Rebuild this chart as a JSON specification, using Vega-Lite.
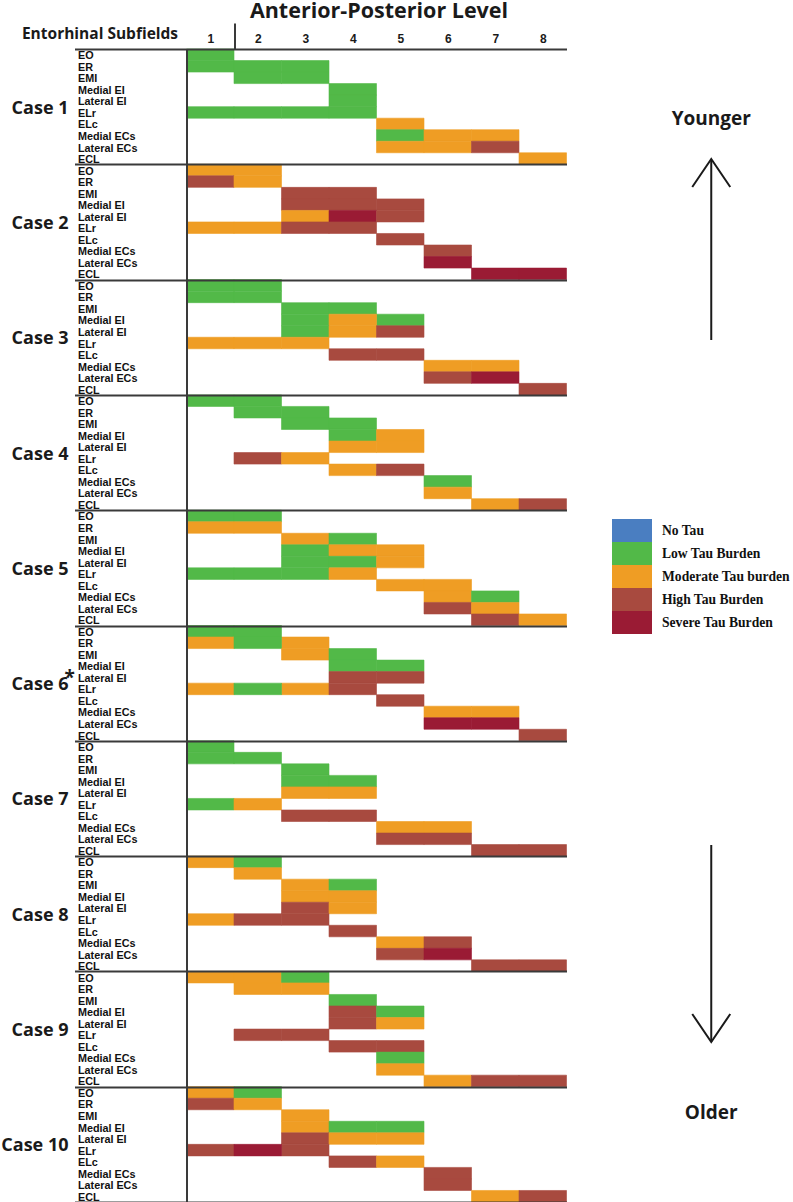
{
  "$schema": "https://vega.github.io/schema/vega-lite/v6.json",
  "width": 380,
  "height": 1153,
  "autosize": {"type": "none"},
  "padding": {"left": 186.5, "top": 49, "right": 226.5, "bottom": 0},
  "background": "white",
  "config": {"view": {"stroke": null}, "font": "Open Sans"},
  "layer": [
    {
      "data": {"values": [
        {"case":"Case 1","sub":"EO","tau":"Low Tau Burden","level":[1]},
        {"case":"Case 1","sub":"ER","tau":"Low Tau Burden","level":[1,2,3]},
        {"case":"Case 1","sub":"EMI","tau":"Low Tau Burden","level":[2,3]},
        {"case":"Case 1","sub":"Medial EI","tau":"Low Tau Burden","level":[4]},
        {"case":"Case 1","sub":"Lateral EI","tau":"Low Tau Burden","level":[4]},
        {"case":"Case 1","sub":"ELr","tau":"Low Tau Burden","level":[1,2,3,4]},
        {"case":"Case 1","sub":"ELc","tau":"Moderate Tau burden","level":[5]},
        {"case":"Case 1","sub":"Medial ECs","tau":"Low Tau Burden","level":[5]},
        {"case":"Case 1","sub":"Medial ECs","tau":"Moderate Tau burden","level":[6,7]},
        {"case":"Case 1","sub":"Lateral ECs","tau":"Moderate Tau burden","level":[5,6]},
        {"case":"Case 1","sub":"Lateral ECs","tau":"High Tau Burden","level":[7]},
        {"case":"Case 1","sub":"ECL","tau":"Moderate Tau burden","level":[8]},

        {"case":"Case 2","sub":"EO","tau":"Moderate Tau burden","level":[1,2]},
        {"case":"Case 2","sub":"ER","tau":"High Tau Burden","level":[1]},
        {"case":"Case 2","sub":"ER","tau":"Moderate Tau burden","level":[2]},
        {"case":"Case 2","sub":"EMI","tau":"High Tau Burden","level":[3,4]},
        {"case":"Case 2","sub":"Medial EI","tau":"High Tau Burden","level":[3,4,5]},
        {"case":"Case 2","sub":"Lateral EI","tau":"Moderate Tau burden","level":[3]},
        {"case":"Case 2","sub":"Lateral EI","tau":"Severe Tau Burden","level":[4]},
        {"case":"Case 2","sub":"Lateral EI","tau":"High Tau Burden","level":[5]},
        {"case":"Case 2","sub":"ELr","tau":"Moderate Tau burden","level":[1,2]},
        {"case":"Case 2","sub":"ELr","tau":"High Tau Burden","level":[3,4]},
        {"case":"Case 2","sub":"ELc","tau":"High Tau Burden","level":[5]},
        {"case":"Case 2","sub":"Medial ECs","tau":"High Tau Burden","level":[6]},
        {"case":"Case 2","sub":"Lateral ECs","tau":"Severe Tau Burden","level":[6]},
        {"case":"Case 2","sub":"ECL","tau":"Severe Tau Burden","level":[7,8]},

        {"case":"Case 3","sub":"EO","tau":"Low Tau Burden","level":[1,2]},
        {"case":"Case 3","sub":"ER","tau":"Low Tau Burden","level":[1,2]},
        {"case":"Case 3","sub":"EMI","tau":"Low Tau Burden","level":[3,4]},
        {"case":"Case 3","sub":"Medial EI","tau":"Low Tau Burden","level":[3,5]},
        {"case":"Case 3","sub":"Medial EI","tau":"Moderate Tau burden","level":[4]},
        {"case":"Case 3","sub":"Lateral EI","tau":"Low Tau Burden","level":[3]},
        {"case":"Case 3","sub":"Lateral EI","tau":"Moderate Tau burden","level":[4]},
        {"case":"Case 3","sub":"Lateral EI","tau":"High Tau Burden","level":[5]},
        {"case":"Case 3","sub":"ELr","tau":"Moderate Tau burden","level":[1,2,3]},
        {"case":"Case 3","sub":"ELc","tau":"High Tau Burden","level":[4,5]},
        {"case":"Case 3","sub":"Medial ECs","tau":"Moderate Tau burden","level":[6,7]},
        {"case":"Case 3","sub":"Lateral ECs","tau":"High Tau Burden","level":[6]},
        {"case":"Case 3","sub":"Lateral ECs","tau":"Severe Tau Burden","level":[7]},
        {"case":"Case 3","sub":"ECL","tau":"High Tau Burden","level":[8]},

        {"case":"Case 4","sub":"EO","tau":"Low Tau Burden","level":[1,2]},
        {"case":"Case 4","sub":"ER","tau":"Low Tau Burden","level":[2,3]},
        {"case":"Case 4","sub":"EMI","tau":"Low Tau Burden","level":[3,4]},
        {"case":"Case 4","sub":"Medial EI","tau":"Low Tau Burden","level":[4]},
        {"case":"Case 4","sub":"Medial EI","tau":"Moderate Tau burden","level":[5]},
        {"case":"Case 4","sub":"Lateral EI","tau":"Moderate Tau burden","level":[4,5]},
        {"case":"Case 4","sub":"ELr","tau":"High Tau Burden","level":[2]},
        {"case":"Case 4","sub":"ELr","tau":"Moderate Tau burden","level":[3]},
        {"case":"Case 4","sub":"ELc","tau":"Moderate Tau burden","level":[4]},
        {"case":"Case 4","sub":"ELc","tau":"High Tau Burden","level":[5]},
        {"case":"Case 4","sub":"Medial ECs","tau":"Low Tau Burden","level":[6]},
        {"case":"Case 4","sub":"Lateral ECs","tau":"Moderate Tau burden","level":[6]},
        {"case":"Case 4","sub":"ECL","tau":"Moderate Tau burden","level":[7]},
        {"case":"Case 4","sub":"ECL","tau":"High Tau Burden","level":[8]},

        {"case":"Case 5","sub":"EO","tau":"Low Tau Burden","level":[1,2]},
        {"case":"Case 5","sub":"ER","tau":"Moderate Tau burden","level":[1,2]},
        {"case":"Case 5","sub":"EMI","tau":"Moderate Tau burden","level":[3]},
        {"case":"Case 5","sub":"EMI","tau":"Low Tau Burden","level":[4]},
        {"case":"Case 5","sub":"Medial EI","tau":"Low Tau Burden","level":[3]},
        {"case":"Case 5","sub":"Medial EI","tau":"Moderate Tau burden","level":[4,5]},
        {"case":"Case 5","sub":"Lateral EI","tau":"Low Tau Burden","level":[3,4]},
        {"case":"Case 5","sub":"Lateral EI","tau":"Moderate Tau burden","level":[5]},
        {"case":"Case 5","sub":"ELr","tau":"Low Tau Burden","level":[1,2,3]},
        {"case":"Case 5","sub":"ELr","tau":"Moderate Tau burden","level":[4]},
        {"case":"Case 5","sub":"ELc","tau":"Moderate Tau burden","level":[5,6]},
        {"case":"Case 5","sub":"Medial ECs","tau":"Moderate Tau burden","level":[6]},
        {"case":"Case 5","sub":"Medial ECs","tau":"Low Tau Burden","level":[7]},
        {"case":"Case 5","sub":"Lateral ECs","tau":"High Tau Burden","level":[6]},
        {"case":"Case 5","sub":"Lateral ECs","tau":"Moderate Tau burden","level":[7]},
        {"case":"Case 5","sub":"ECL","tau":"High Tau Burden","level":[7]},
        {"case":"Case 5","sub":"ECL","tau":"Moderate Tau burden","level":[8]},

        {"case":"Case 6","sub":"EO","tau":"Low Tau Burden","level":[1,2]},
        {"case":"Case 6","sub":"ER","tau":"Moderate Tau burden","level":[1,3]},
        {"case":"Case 6","sub":"ER","tau":"Low Tau Burden","level":[2]},
        {"case":"Case 6","sub":"EMI","tau":"Moderate Tau burden","level":[3]},
        {"case":"Case 6","sub":"EMI","tau":"Low Tau Burden","level":[4]},
        {"case":"Case 6","sub":"Medial EI","tau":"Low Tau Burden","level":[4,5]},
        {"case":"Case 6","sub":"Lateral EI","tau":"High Tau Burden","level":[4,5]},
        {"case":"Case 6","sub":"ELr","tau":"Moderate Tau burden","level":[1,3]},
        {"case":"Case 6","sub":"ELr","tau":"Low Tau Burden","level":[2]},
        {"case":"Case 6","sub":"ELr","tau":"High Tau Burden","level":[4]},
        {"case":"Case 6","sub":"ELc","tau":"High Tau Burden","level":[5]},
        {"case":"Case 6","sub":"Medial ECs","tau":"Moderate Tau burden","level":[6,7]},
        {"case":"Case 6","sub":"Lateral ECs","tau":"Severe Tau Burden","level":[6,7]},
        {"case":"Case 6","sub":"ECL","tau":"High Tau Burden","level":[8]},

        {"case":"Case 7","sub":"EO","tau":"Low Tau Burden","level":[1]},
        {"case":"Case 7","sub":"ER","tau":"Low Tau Burden","level":[1,2]},
        {"case":"Case 7","sub":"EMI","tau":"Low Tau Burden","level":[3]},
        {"case":"Case 7","sub":"Medial EI","tau":"Low Tau Burden","level":[3,4]},
        {"case":"Case 7","sub":"Lateral EI","tau":"Moderate Tau burden","level":[3,4]},
        {"case":"Case 7","sub":"ELr","tau":"Low Tau Burden","level":[1]},
        {"case":"Case 7","sub":"ELr","tau":"Moderate Tau burden","level":[2]},
        {"case":"Case 7","sub":"ELc","tau":"High Tau Burden","level":[3,4]},
        {"case":"Case 7","sub":"Medial ECs","tau":"Moderate Tau burden","level":[5,6]},
        {"case":"Case 7","sub":"Lateral ECs","tau":"High Tau Burden","level":[5,6]},
        {"case":"Case 7","sub":"ECL","tau":"High Tau Burden","level":[7,8]},

        {"case":"Case 8","sub":"EO","tau":"Moderate Tau burden","level":[1]},
        {"case":"Case 8","sub":"EO","tau":"Low Tau Burden","level":[2]},
        {"case":"Case 8","sub":"ER","tau":"Moderate Tau burden","level":[2]},
        {"case":"Case 8","sub":"EMI","tau":"Moderate Tau burden","level":[3]},
        {"case":"Case 8","sub":"EMI","tau":"Low Tau Burden","level":[4]},
        {"case":"Case 8","sub":"Medial EI","tau":"Moderate Tau burden","level":[3,4]},
        {"case":"Case 8","sub":"Lateral EI","tau":"High Tau Burden","level":[3]},
        {"case":"Case 8","sub":"Lateral EI","tau":"Moderate Tau burden","level":[4]},
        {"case":"Case 8","sub":"ELr","tau":"Moderate Tau burden","level":[1]},
        {"case":"Case 8","sub":"ELr","tau":"High Tau Burden","level":[2,3]},
        {"case":"Case 8","sub":"ELc","tau":"High Tau Burden","level":[4]},
        {"case":"Case 8","sub":"Medial ECs","tau":"Moderate Tau burden","level":[5]},
        {"case":"Case 8","sub":"Medial ECs","tau":"High Tau Burden","level":[6]},
        {"case":"Case 8","sub":"Lateral ECs","tau":"High Tau Burden","level":[5]},
        {"case":"Case 8","sub":"Lateral ECs","tau":"Severe Tau Burden","level":[6]},
        {"case":"Case 8","sub":"ECL","tau":"High Tau Burden","level":[7,8]},

        {"case":"Case 9","sub":"EO","tau":"Moderate Tau burden","level":[1,2]},
        {"case":"Case 9","sub":"EO","tau":"Low Tau Burden","level":[3]},
        {"case":"Case 9","sub":"ER","tau":"Moderate Tau burden","level":[2,3]},
        {"case":"Case 9","sub":"EMI","tau":"Low Tau Burden","level":[4]},
        {"case":"Case 9","sub":"Medial EI","tau":"High Tau Burden","level":[4]},
        {"case":"Case 9","sub":"Medial EI","tau":"Low Tau Burden","level":[5]},
        {"case":"Case 9","sub":"Lateral EI","tau":"High Tau Burden","level":[4]},
        {"case":"Case 9","sub":"Lateral EI","tau":"Moderate Tau burden","level":[5]},
        {"case":"Case 9","sub":"ELr","tau":"High Tau Burden","level":[2,3]},
        {"case":"Case 9","sub":"ELc","tau":"High Tau Burden","level":[4,5]},
        {"case":"Case 9","sub":"Medial ECs","tau":"Low Tau Burden","level":[5]},
        {"case":"Case 9","sub":"Lateral ECs","tau":"Moderate Tau burden","level":[5]},
        {"case":"Case 9","sub":"ECL","tau":"Moderate Tau burden","level":[6]},
        {"case":"Case 9","sub":"ECL","tau":"High Tau Burden","level":[7,8]},

        {"case":"Case 10","sub":"EO","tau":"Moderate Tau burden","level":[1]},
        {"case":"Case 10","sub":"EO","tau":"Low Tau Burden","level":[2]},
        {"case":"Case 10","sub":"ER","tau":"High Tau Burden","level":[1]},
        {"case":"Case 10","sub":"ER","tau":"Moderate Tau burden","level":[2]},
        {"case":"Case 10","sub":"EMI","tau":"Moderate Tau burden","level":[3]},
        {"case":"Case 10","sub":"Medial EI","tau":"Moderate Tau burden","level":[3]},
        {"case":"Case 10","sub":"Medial EI","tau":"Low Tau Burden","level":[4,5]},
        {"case":"Case 10","sub":"Lateral EI","tau":"High Tau Burden","level":[3]},
        {"case":"Case 10","sub":"Lateral EI","tau":"Moderate Tau burden","level":[4,5]},
        {"case":"Case 10","sub":"ELr","tau":"High Tau Burden","level":[1,3]},
        {"case":"Case 10","sub":"ELr","tau":"Severe Tau Burden","level":[2]},
        {"case":"Case 10","sub":"ELc","tau":"High Tau Burden","level":[4]},
        {"case":"Case 10","sub":"ELc","tau":"Moderate Tau burden","level":[5]},
        {"case":"Case 10","sub":"Medial ECs","tau":"High Tau Burden","level":[6]},
        {"case":"Case 10","sub":"Lateral ECs","tau":"High Tau Burden","level":[6]},
        {"case":"Case 10","sub":"ECL","tau":"Moderate Tau burden","level":[7]},
        {"case":"Case 10","sub":"ECL","tau":"High Tau Burden","level":[8]}
      ]},
      "transform": [{"flatten": ["level"]}],
      "mark": {"type": "rect", "strokeWidth": 0.6},
      "encoding": {
        "x": {"field": "level", "type": "ordinal",
          "scale": {"domain": [1,2,3,4,5,6,7,8], "paddingInner": 0, "paddingOuter": 0},
          "axis": {"orient": "top", "title": "Anterior-Posterior Level",
            "titleFont": "Open Sans", "titleFontWeight": "bold", "titleFontSize": 21.5, "titleColor": "#1a1a1a",
            "titleBaseline": "alphabetic", "titleY": -31.5, "titleX": 192, "titleAlign": "center",
            "labelFont": "Liberation Sans", "labelFontWeight": "bold", "labelFontSize": 12, "labelColor": "#1a1a1a",
            "labelAngle": 0, "labelBaseline": "alphabetic", "labelPadding": -19.3,
            "domain": false, "grid": false, "ticks": true, "tickBand": "extent", "tickSize": 26,
            "tickColor": "#3a3a3a", "tickWidth": 2,
            "tickOpacity": {"condition": {"test": "datum.value == 1", "value": 1}, "value": 0},
            "zindex": 1}},
        "y": {"field": "case", "type": "ordinal",
          "scale": {"domain": ["Case 1","Case 2","Case 3","Case 4","Case 5","Case 6","Case 7","Case 8","Case 9","Case 10"], "paddingInner": 0, "paddingOuter": 0},
          "axis": {"title": "Entorhinal Subfields", "titleAngle": 0, "titleAlign": "center", "titleBaseline": "alphabetic",
            "titleX": -87, "titleY": -10.7, "titleFont": "Open Sans", "titleFontWeight": "bold", "titleFontSize": 15.5, "titleColor": "#1a1a1a",
            "labelFont": "Open Sans", "labelFontWeight": "bold", "labelFontSize": 18, "labelColor": "#1a1a1a",
            "labelAlign": "right", "labelBaseline": "alphabetic", "labelOffset": 6.5, "labelPadding": 6.5,
            "ticks": true, "tickBand": "extent", "tickSize": 112, "tickColor": "#3a3a3a", "tickWidth": 2,
            "grid": true, "gridColor": "#3a3a3a", "gridWidth": 2, "gridOpacity": 1,
            "domain": true, "domainColor": "#3a3a3a", "domainWidth": 2, "zindex": 1}},
        "yOffset": {"field": "sub", "type": "ordinal",
          "scale": {"domain": ["EO","ER","EMI","Medial EI","Lateral EI","ELr","ELc","Medial ECs","Lateral ECs","ECL"], "paddingInner": 0, "paddingOuter": 0}},
        "color": {"field": "tau", "type": "nominal",
          "scale": {"domain": ["No Tau","Low Tau Burden","Moderate Tau burden","High Tau Burden","Severe Tau Burden"],
                    "range": ["#4a7ec1","#52b948","#ef9d24","#a84a3f","#9a1b34"]},
          "legend": {"orient": "none", "legendX": 425.5, "legendY": 470, "title": null, "padding": 0,
            "symbolType": "M-1,-0.575H1V0.575H-1Z", "symbolSize": 1600, "symbolStrokeWidth": 0, "symbolOpacity": 1,
            "clipHeight": 23,
            "labelFont": "Liberation Serif", "labelFontWeight": "bold", "labelFontSize": 13.6, "labelColor": "#111111",
            "rowPadding": 0, "labelOffset": 10}},
        "stroke": {"field": "tau", "type": "nominal", "legend": null,
          "scale": {"domain": ["No Tau","Low Tau Burden","Moderate Tau burden","High Tau Burden","Severe Tau Burden"],
                    "range": ["#4a7ec1","#52b948","#ef9d24","#a84a3f","#9a1b34"]}}
      }
    },
    {
      "data": {"values": [
        {"case":"Case 1","sub":["EO","ER","EMI","Medial EI","Lateral EI","ELr","ELc","Medial ECs","Lateral ECs","ECL"]},
        {"case":"Case 2","sub":["EO","ER","EMI","Medial EI","Lateral EI","ELr","ELc","Medial ECs","Lateral ECs","ECL"]},
        {"case":"Case 3","sub":["EO","ER","EMI","Medial EI","Lateral EI","ELr","ELc","Medial ECs","Lateral ECs","ECL"]},
        {"case":"Case 4","sub":["EO","ER","EMI","Medial EI","Lateral EI","ELr","ELc","Medial ECs","Lateral ECs","ECL"]},
        {"case":"Case 5","sub":["EO","ER","EMI","Medial EI","Lateral EI","ELr","ELc","Medial ECs","Lateral ECs","ECL"]},
        {"case":"Case 6","sub":["EO","ER","EMI","Medial EI","Lateral EI","ELr","ELc","Medial ECs","Lateral ECs","ECL"]},
        {"case":"Case 7","sub":["EO","ER","EMI","Medial EI","Lateral EI","ELr","ELc","Medial ECs","Lateral ECs","ECL"]},
        {"case":"Case 8","sub":["EO","ER","EMI","Medial EI","Lateral EI","ELr","ELc","Medial ECs","Lateral ECs","ECL"]},
        {"case":"Case 9","sub":["EO","ER","EMI","Medial EI","Lateral EI","ELr","ELc","Medial ECs","Lateral ECs","ECL"]},
        {"case":"Case 10","sub":["EO","ER","EMI","Medial EI","Lateral EI","ELr","ELc","Medial ECs","Lateral ECs","ECL"]}
      ]},
      "transform": [{"flatten": ["sub"]}],
      "mark": {"type": "text", "align": "left", "baseline": "alphabetic", "dx": -108.5, "dy": 4.5,
               "font": "Liberation Sans", "fontWeight": "bold", "fontSize": 10.8, "color": "#111111"},
      "encoding": {
        "x": {"datum": 1, "type": "ordinal", "bandPosition": 0, "scale": {"domain": [1,2,3,4,5,6,7,8]}},
        "y": {"field": "case", "type": "ordinal",
              "scale": {"domain": ["Case 1","Case 2","Case 3","Case 4","Case 5","Case 6","Case 7","Case 8","Case 9","Case 10"]}},
        "yOffset": {"field": "sub", "type": "ordinal",
              "scale": {"domain": ["EO","ER","EMI","Medial EI","Lateral EI","ELr","ELc","Medial ECs","Lateral ECs","ECL"]}},
        "text": {"field": "sub"}
      }
    },
    {
      "data": {"values": [{"case": "Case 6", "note": "*"}]},
      "mark": {"type": "text", "align": "left", "baseline": "alphabetic", "dx": -122, "dy": 0.85,
               "font": "Open Sans", "fontWeight": "bold", "fontSize": 19, "color": "#1a1a1a"},
      "encoding": {
        "x": {"datum": 1, "type": "ordinal", "bandPosition": 0, "scale": {"domain": [1,2,3,4,5,6,7,8]}},
        "y": {"field": "case", "type": "ordinal",
              "scale": {"domain": ["Case 1","Case 2","Case 3","Case 4","Case 5","Case 6","Case 7","Case 8","Case 9","Case 10"]}},
        "text": {"field": "note"}
      }
    },
    {
      "data": {"values": [{"label": "Younger"}]},
      "mark": {"type": "text", "align": "center", "baseline": "alphabetic", "dx": 168.5, "dy": 18.35,
               "font": "Open Sans", "fontWeight": "bold", "fontSize": 19, "color": "#1a1a1a"},
      "encoding": {
        "x": {"datum": 8, "type": "ordinal", "bandPosition": 0.5, "scale": {"domain": [1,2,3,4,5,6,7,8]}},
        "y": {"datum": "Case 1", "type": "ordinal", "bandPosition": 0.5,
              "scale": {"domain": ["Case 1","Case 2","Case 3","Case 4","Case 5","Case 6","Case 7","Case 8","Case 9","Case 10"]}},
        "text": {"field": "label"}
      }
    },
    {
      "data": {"values": [{"label": "Older"}]},
      "mark": {"type": "text", "align": "center", "baseline": "alphabetic", "dx": 168.5, "dy": -25.35,
               "font": "Open Sans", "fontWeight": "bold", "fontSize": 19, "color": "#1a1a1a"},
      "encoding": {
        "x": {"datum": 8, "type": "ordinal", "bandPosition": 0.5, "scale": {"domain": [1,2,3,4,5,6,7,8]}},
        "y": {"datum": "Case 10", "type": "ordinal", "bandPosition": 0.5,
              "scale": {"domain": ["Case 1","Case 2","Case 3","Case 4","Case 5","Case 6","Case 7","Case 8","Case 9","Case 10"]}},
        "text": {"field": "label"}
      }
    },
    {
      "data": {"values": [{}]},
      "mark": {"type": "rule", "strokeWidth": 2, "color": "#1a1a1a", "xOffset": 168.5, "yOffset": -4.3, "y2Offset": 2.75},
      "encoding": {
        "x": {"datum": 8, "type": "ordinal", "bandPosition": 0.5, "scale": {"domain": [1,2,3,4,5,6,7,8]}},
        "y": {"datum": "Case 2", "type": "ordinal", "bandPosition": 0,
              "scale": {"domain": ["Case 1","Case 2","Case 3","Case 4","Case 5","Case 6","Case 7","Case 8","Case 9","Case 10"]}},
        "y2": {"datum": "Case 3"}
      }
    },
    {
      "data": {"values": [{}]},
      "mark": {"type": "rule", "strokeWidth": 2, "color": "#1a1a1a", "xOffset": 168.5, "yOffset": -11.1, "y2Offset": 12.95},
      "encoding": {
        "x": {"datum": 8, "type": "ordinal", "bandPosition": 0.5, "scale": {"domain": [1,2,3,4,5,6,7,8]}},
        "y": {"datum": "Case 8", "type": "ordinal", "bandPosition": 0,
              "scale": {"domain": ["Case 1","Case 2","Case 3","Case 4","Case 5","Case 6","Case 7","Case 8","Case 9","Case 10"]}},
        "y2": {"datum": "Case 9"}
      }
    },
    {
      "data": {"values": [{}]},
      "mark": {"type": "point", "shape": "M-1,0.737L0,-0.737L1,0.737", "size": 1444, "filled": false, "opacity": 1,
               "strokeWidth": 2, "color": "#1a1a1a", "xOffset": 168.5, "yOffset": 8.7},
      "encoding": {
        "x": {"datum": 8, "type": "ordinal", "bandPosition": 0.5, "scale": {"domain": [1,2,3,4,5,6,7,8]}},
        "y": {"datum": "Case 2", "type": "ordinal", "bandPosition": 0,
              "scale": {"domain": ["Case 1","Case 2","Case 3","Case 4","Case 5","Case 6","Case 7","Case 8","Case 9","Case 10"]}}
      }
    },
    {
      "data": {"values": [{}]},
      "mark": {"type": "point", "shape": "M-1,-0.737L0,0.737L1,-0.737", "size": 1444, "filled": false, "opacity": 1,
               "strokeWidth": 2, "color": "#1a1a1a", "xOffset": 168.5, "yOffset": 56.6},
      "encoding": {
        "x": {"datum": 8, "type": "ordinal", "bandPosition": 0.5, "scale": {"domain": [1,2,3,4,5,6,7,8]}},
        "y": {"datum": "Case 9", "type": "ordinal", "bandPosition": 0,
              "scale": {"domain": ["Case 1","Case 2","Case 3","Case 4","Case 5","Case 6","Case 7","Case 8","Case 9","Case 10"]}}
      }
    }
  ]
}
